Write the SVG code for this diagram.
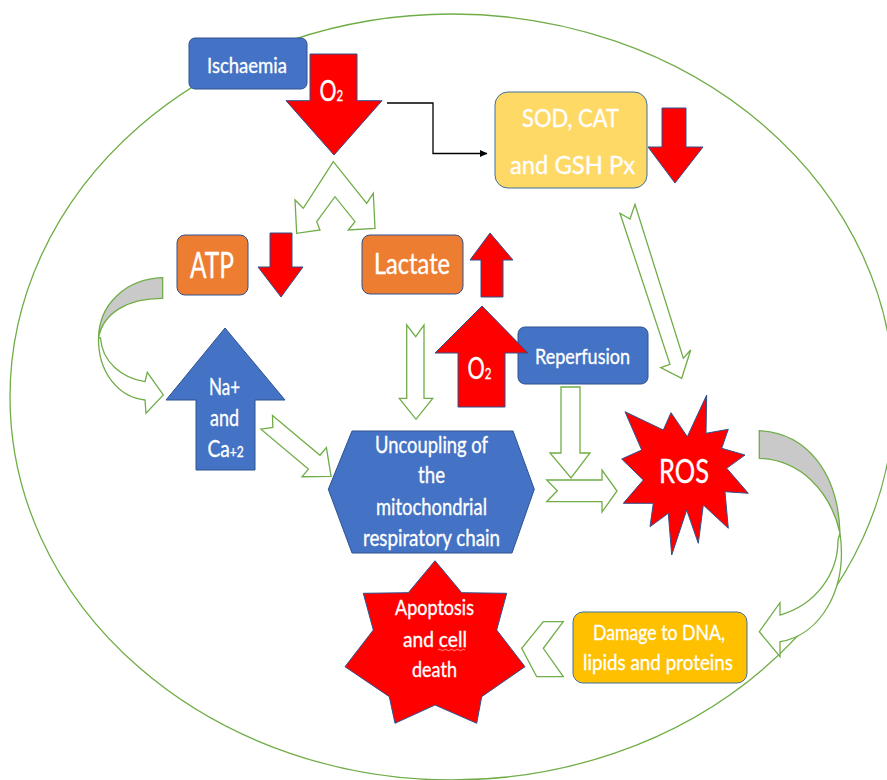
<svg xmlns="http://www.w3.org/2000/svg" width="887" height="780" viewBox="0 0 887 780">
<defs>
<style>
.t{font-family:Lato,"Liberation Sans",sans-serif;fill:#FFFFFF;stroke:#FFFFFF;stroke-width:0.35;}
.blue{fill:#4472C4;stroke:#2F528F;stroke-width:1;}
.orange{fill:#ED7D31;stroke:#2F528F;stroke-width:1;}
.red{fill:#FF0000;stroke:#2F528F;stroke-width:1;}
.ga{fill:#FFFFFF;stroke:#70AD47;stroke-width:1.3;stroke-linejoin:miter;}
.gg{fill:#C9C9C9;stroke:#70AD47;stroke-width:1.3;}
.line{fill:none;stroke:#000000;stroke-width:1.3;}
</style>
<marker id="ah" markerWidth="8" markerHeight="8" refX="7" refY="4" orient="auto" markerUnits="userSpaceOnUse">
<path d="M0,0.5 L7.5,4 L0,7.5 Z" fill="#000000"/>
</marker>
</defs>
<rect width="887" height="780" fill="#FFFFFF"/>
<ellipse cx="452" cy="397" rx="442" ry="383" fill="none" stroke="#70AD47" stroke-width="1.3"/>

<g id="connectors">
<polyline class="line" points="387,103 433,103 433,153.5 487,153.5" marker-end="url(#ah)"/>
<polygon class="ga" points="333.3,161.7 366.7,203.3 373.3,193.3 375,228.3 348.3,230 355,221.7 335,196.7 316.7,221.7 320,230 296.7,233.3 295,200 303.3,208.3"/>
<polygon class="ga" points="406.7,325 415.7,336.7 424,325 424,398.3 432.7,398.3 416,419.3 399.3,398.3 406.7,398.3"/>
<polygon class="ga" points="561,387 580,387 580,453 590,453 571,478 550,453 561,453"/>
<polygon class="ga" points="546.7,480 602,480 602,470 617,491 602,512 602,501.7 546.7,501.7 557.3,490.7"/>
<polygon class="ga" points="620,213.3 630,219 635,204.3 683.3,358.3 690.7,350 681.7,378.3 660.7,367.7 670,364.3"/>
<polygon class="ga" transform="translate(266.7,422.3) rotate(40)" points="0,-9 62,-9 62,-19 84,0 62,19 62,9 0,9 8,0"/>
<polygon class="ga" points="563.3,621.7 543.3,648.3 563.3,676.7 536.7,676.7 521.7,648.3 543.3,621.7"/>
<path class="gg" d="M162.7,277.7 C125,279 99,305 98.5,338 C103,313 128,298 162.7,298.3 Z"/>
<path class="ga" d="M98.5,338 C98,372 118,397 145,400 L146,413.3 L163.3,395 L147.3,372.3 L145,381.7 C122,378 102,362 100.5,338 Z"/>
<path class="gg" d="M759.3,430.7 C805,433 838,470 840,533 C830,490 800,460 759.3,458.3 Z"/>
<path class="ga" d="M840,533 C848,590 820,635 780,641.7 L780,656.7 L759.3,631.7 L780,602.7 L780,615 C815,605 838,575 838,540 Z"/>
</g>

<g id="ischaemia">
<rect class="blue" x="189" y="38" width="118" height="51" rx="6"/>
<text class="t" x="207" y="72.5" font-size="22" textLength="80" lengthAdjust="spacingAndGlyphs">Ischaemia</text>
</g>

<g id="o2-down">
<polygon class="red" points="310,54 357,54 357,100.7 382,100.7 334,155 286,100.7 310,100.7"/>
<text class="t" transform="translate(319.5,100.5) scale(0.76,1)" x="0" y="0" font-size="28">O<tspan font-size="15">2</tspan></text>
</g>

<g id="sod">
<rect x="495" y="92" width="152" height="96" rx="13" fill="#FFD966" stroke="#41719C" stroke-width="1"/>
<text class="t" x="522" y="127.3" font-size="25" textLength="97" lengthAdjust="spacingAndGlyphs">SOD, CAT</text>
<text class="t" x="510" y="174" font-size="25" textLength="125" lengthAdjust="spacingAndGlyphs">and GSH Px</text>
</g>

<g id="sod-down">
<polygon class="red" points="662,108 686,108 686,147 703,147 675,183 648,147 662,147"/>
</g>

<g id="atp">
<rect class="orange" x="177" y="235" width="71" height="60" rx="8"/>
<text class="t" x="190" y="278.3" font-size="36" textLength="44" lengthAdjust="spacingAndGlyphs">ATP</text>
</g>

<g id="atp-down">
<polygon class="red" points="270,233 292,233 292,267 303,267 281,297 258,267 270,267"/>
</g>

<g id="lactate">
<rect class="orange" x="362" y="235" width="101" height="59" rx="8"/>
<text class="t" x="374" y="273.5" font-size="28" textLength="76" lengthAdjust="spacingAndGlyphs">Lactate</text>
</g>

<g id="lactate-up">
<polygon class="red" points="490,233 513,260 503,260 503,297 481,297 481,260 470,260"/>
</g>

<g id="reperfusion">
<rect class="blue" x="518" y="327" width="130" height="57" rx="7"/>
<text class="t" x="535" y="364" font-size="22" textLength="95" lengthAdjust="spacingAndGlyphs">Reperfusion</text>
</g>

<g id="o2-up">
<polygon class="red" points="482,306 528,353 505,353 505,407 458,407 458,353 435,353"/>
<text class="t" transform="translate(467.5,379) scale(0.72,1)" x="0" y="0" font-size="30">O<tspan font-size="16">2</tspan></text>
</g>

<g id="ions">
<polygon class="blue" points="225,328 285,400 255,400 255,470 196,470 196,400 166,400"/>
<text class="t" x="209" y="395" font-size="24" textLength="31" lengthAdjust="spacingAndGlyphs">Na+</text>
<text class="t" x="210" y="426" font-size="24" textLength="29" lengthAdjust="spacingAndGlyphs">and</text>
<text class="t" transform="translate(207.5,456.7) scale(0.8,1)" x="0" y="0" font-size="24">Ca<tspan font-size="15">+2</tspan></text>
</g>

<g id="uncoupling">
<polygon class="blue" points="352,431 513,431 534.3,489.3 512,553 352,553 328.3,489.3"/>
<text class="t" x="375" y="452.7" font-size="23" textLength="113" lengthAdjust="spacingAndGlyphs">Uncoupling of</text>
<text class="t" x="418" y="483.3" font-size="23" textLength="27" lengthAdjust="spacingAndGlyphs">the</text>
<text class="t" x="376" y="515" font-size="23" textLength="111" lengthAdjust="spacingAndGlyphs">mitochondrial</text>
<text class="t" x="363" y="546" font-size="23" textLength="137" lengthAdjust="spacingAndGlyphs">respiratory chain</text>
</g>

<g id="ros">
<polygon class="red" points="625,411.7 663.3,430 671,412.7 687.3,436.7 706.7,395 706,433.3 728.3,429.3 721.7,448.3 745,455 726.7,468.3 748.3,493.3 725,491.7 728.3,528.3 703.3,505 698.3,543.3 686.7,510 671.7,555 668.3,513.3 650,526.7 653.3,503.3 623.3,503.3 643.3,480 621.7,459 641.7,450"/>
<text class="t" x="659" y="482.7" font-size="32" textLength="50" lengthAdjust="spacingAndGlyphs">ROS</text>
</g>

<g id="damage">
<rect x="573" y="612" width="174" height="71" rx="10" fill="#FFC000" stroke="#41719C" stroke-width="1"/>
<text class="t" x="593" y="640" font-size="22" textLength="132" lengthAdjust="spacingAndGlyphs">Damage to DNA,</text>
<text class="t" x="583" y="670" font-size="22" textLength="150" lengthAdjust="spacingAndGlyphs">lipids and proteins</text>
</g>

<g id="apoptosis">
<polygon class="red" points="435,560.7 461.7,592.7 506.7,593.3 496.7,630 525,666.7 481.7,696.7 476.7,723.3 435,705 395,723.3 389.3,696.7 345,666.7 373.3,630 363.3,593.3 408.3,592.7"/>
<text class="t" x="395" y="615" font-size="22" textLength="79" lengthAdjust="spacingAndGlyphs">Apoptosis</text>
<text class="t" x="403" y="646.7" font-size="22" textLength="64" lengthAdjust="spacingAndGlyphs">and cell</text>
<path d="M438,650 q1.5,-1.5 3,0 t3,0 t3,0 t3,0 t3,0 t3,0 t3,0 t3,0 t3,0" fill="none" stroke="#FFB3B3" stroke-width="0.8"/>
<text class="t" x="412" y="677.3" font-size="22" textLength="45" lengthAdjust="spacingAndGlyphs">death</text>
</g>
</svg>
